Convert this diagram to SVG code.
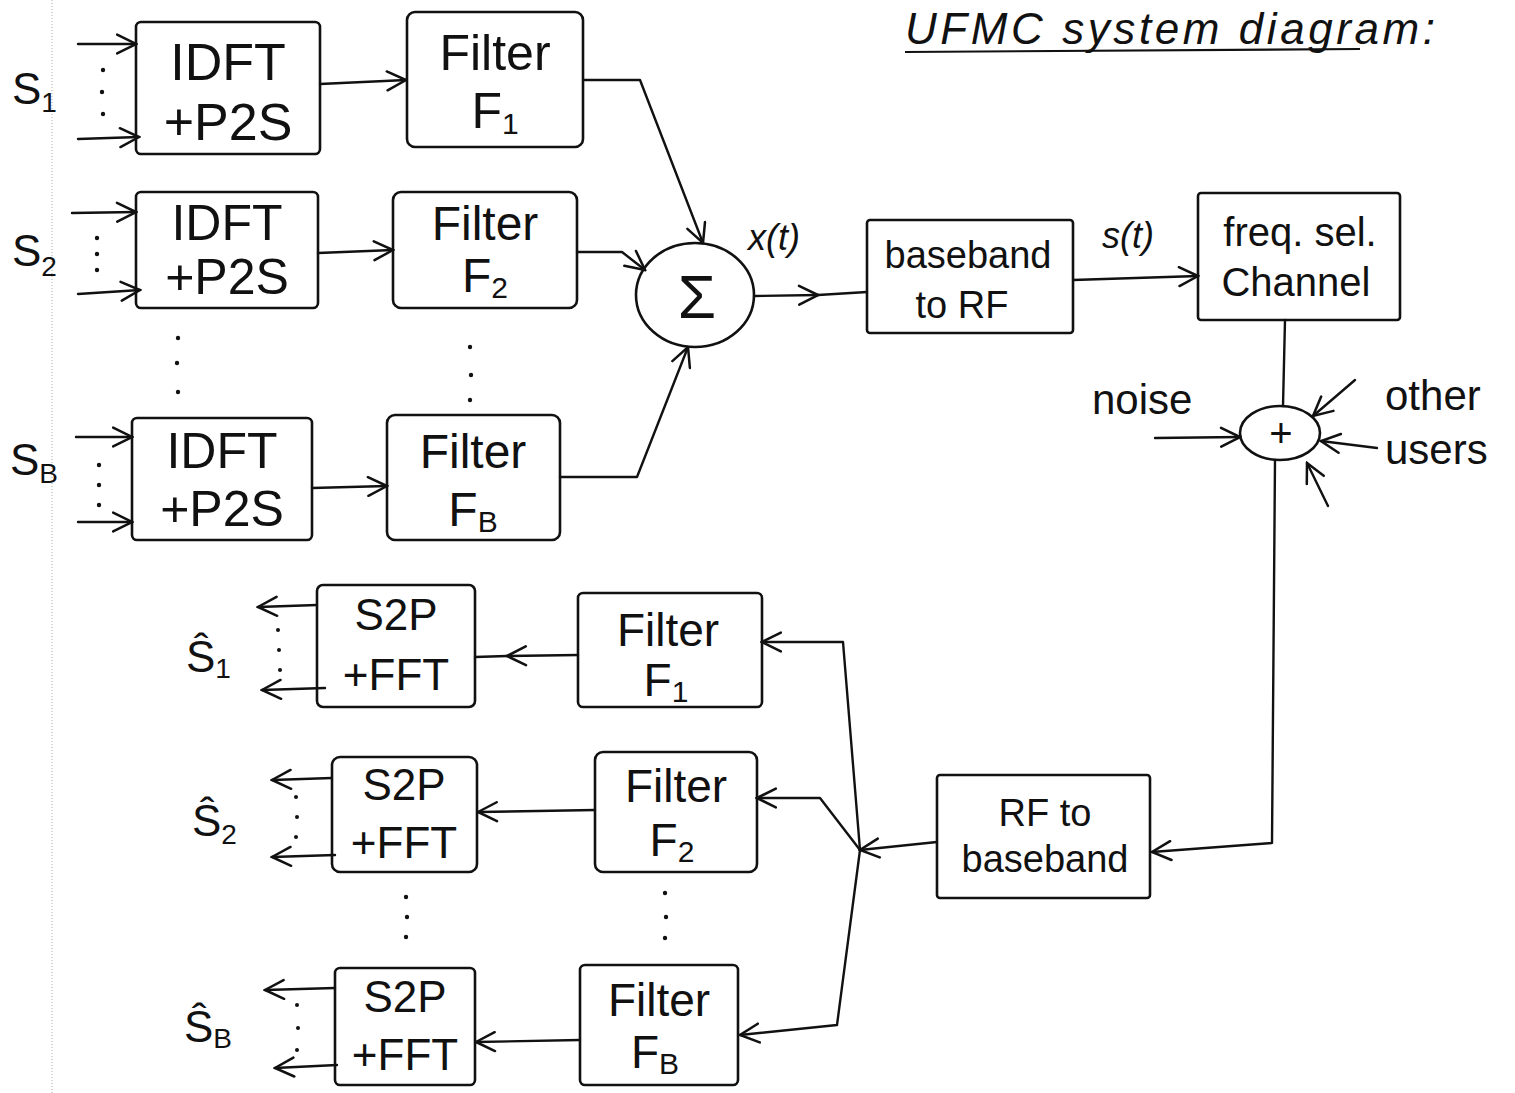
<svg xmlns="http://www.w3.org/2000/svg" width="1515" height="1093" viewBox="0 0 1515 1093">
<style>
.box{fill:none;stroke:#111;stroke-width:2.6;stroke-linejoin:round}
.w{fill:none;stroke:#111;stroke-width:2.4;stroke-linejoin:round;stroke-linecap:round}
.a{marker-end:url(#arr)}
.t{font-family:"Liberation Sans",Arial,sans-serif;fill:#111;text-anchor:middle}
.l{font-family:"Liberation Sans",Arial,sans-serif;fill:#111}
.dot{fill:#111}
</style>
<defs>
<marker id="arr" viewBox="0 0 14 14" refX="13" refY="7" markerWidth="22" markerHeight="22" markerUnits="userSpaceOnUse" orient="auto">
<path d="M1,1 L13,7 L1,13" fill="none" stroke="#111" stroke-width="1.6" stroke-linecap="round"/>
</marker>
</defs>
<rect width="1515" height="1093" fill="#fff"/>
<line x1="52" y1="0" x2="52" y2="1093" stroke="#aaa" stroke-width="1" stroke-dasharray="1 2"/>

<g id="title">
<text class="l" x="905" y="44" font-size="44" font-style="italic" textLength="530" lengthAdjust="spacing">UFMC system diagram:</text>
<line x1="905" y1="52" x2="1360" y2="49" stroke="#111" stroke-width="2.2"/>
</g>

<g id="labels">
<text class="l" x="12" y="104" font-size="44">S<tspan font-size="28" dy="8">1</tspan></text>
<text class="l" x="12" y="266" font-size="44">S<tspan font-size="28" dy="10">2</tspan></text>
<text class="l" x="10" y="475" font-size="44">S<tspan font-size="28" dy="8">B</tspan></text>
<text class="l" x="186" y="672" font-size="44">Ŝ<tspan font-size="28" dy="6">1</tspan></text>
<text class="l" x="192" y="836" font-size="44">Ŝ<tspan font-size="28" dy="8">2</tspan></text>
<text class="l" x="184" y="1042" font-size="44">Ŝ<tspan font-size="28" dy="6">B</tspan></text>
<text class="l" x="748" y="250" font-size="36" font-style="italic">x(t)</text>
<text class="l" x="1102" y="248" font-size="36" font-style="italic">s(t)</text>
<text class="l" x="1092" y="414" font-size="42">noise</text>
<text class="l" x="1385" y="410" font-size="42">other</text>
<text class="l" x="1385" y="464" font-size="42">users</text>
</g>

<g id="dots">
<circle class="dot" cx="103" cy="70" r="2.2"/><circle class="dot" cx="102" cy="92" r="2.2"/><circle class="dot" cx="103" cy="114" r="2.2"/>
<circle class="dot" cx="97" cy="238" r="2.2"/><circle class="dot" cx="97" cy="254" r="2.2"/><circle class="dot" cx="97" cy="270" r="2.2"/>
<circle class="dot" cx="99" cy="465" r="2.2"/><circle class="dot" cx="99" cy="485" r="2.2"/><circle class="dot" cx="99" cy="505" r="2.2"/>
<circle class="dot" cx="178" cy="338" r="2.2"/><circle class="dot" cx="177" cy="363" r="2.2"/><circle class="dot" cx="178" cy="392" r="2.2"/>
<circle class="dot" cx="470" cy="347" r="2.2"/><circle class="dot" cx="471" cy="375" r="2.2"/><circle class="dot" cx="470" cy="400" r="2.2"/>
<circle class="dot" cx="278" cy="630" r="2"/><circle class="dot" cx="279" cy="650" r="2"/><circle class="dot" cx="280" cy="670" r="2"/>
<circle class="dot" cx="296" cy="797" r="2"/><circle class="dot" cx="297" cy="817" r="2"/><circle class="dot" cx="296" cy="837" r="2"/>
<circle class="dot" cx="297" cy="1005" r="2"/><circle class="dot" cx="298" cy="1028" r="2"/><circle class="dot" cx="297" cy="1050" r="2"/>
<circle class="dot" cx="406" cy="897" r="2.2"/><circle class="dot" cx="407" cy="917" r="2.2"/><circle class="dot" cx="406" cy="937" r="2.2"/>
<circle class="dot" cx="665" cy="893" r="2.2"/><circle class="dot" cx="666" cy="917" r="2.2"/><circle class="dot" cx="665" cy="938" r="2.2"/>
</g>

<g id="tx-idft1"><rect class="box" x="136" y="22" width="184" height="132" rx="5"/>
<text class="t" x="228" y="80" font-size="52">IDFT</text><text class="t" x="228" y="140" font-size="52">+P2S</text></g>
<g id="tx-idft2"><rect class="box" x="136" y="192" width="182" height="116" rx="5"/>
<text class="t" x="227" y="240" font-size="50">IDFT</text><text class="t" x="227" y="294" font-size="50">+P2S</text></g>
<g id="tx-idftB"><rect class="box" x="132" y="418" width="180" height="122" rx="5"/>
<text class="t" x="222" y="468" font-size="50">IDFT</text><text class="t" x="222" y="526" font-size="50">+P2S</text></g>

<g id="tx-filt1"><rect class="box" x="407" y="12" width="176" height="135" rx="8"/>
<text class="t" x="495" y="70" font-size="50">Filter</text><text class="t" x="495" y="128" font-size="50">F<tspan font-size="30" dy="6">1</tspan></text></g>
<g id="tx-filt2"><rect class="box" x="393" y="192" width="184" height="116" rx="8"/>
<text class="t" x="485" y="240" font-size="48">Filter</text><text class="t" x="485" y="292" font-size="48">F<tspan font-size="30" dy="6">2</tspan></text></g>
<g id="tx-filtB"><rect class="box" x="387" y="415" width="173" height="125" rx="8"/>
<text class="t" x="473" y="468" font-size="48">Filter</text><text class="t" x="473" y="526" font-size="48">F<tspan font-size="30" dy="6">B</tspan></text></g>

<g id="sum"><ellipse class="box" cx="695" cy="295" rx="59" ry="52"/>
<text class="t" x="697" y="318" font-size="62">Σ</text></g>

<g id="bb2rf"><rect class="box" x="867" y="220" width="206" height="113" rx="3"/>
<text class="t" x="968" y="268" font-size="38">baseband</text><text class="t" x="962" y="318" font-size="38">to RF</text></g>

<g id="channel"><rect class="box" x="1198" y="193" width="202" height="127" rx="3"/>
<text class="t" x="1300" y="246" font-size="40">freq. sel.</text><text class="t" x="1296" y="296" font-size="40">Channel</text></g>

<g id="plus"><ellipse class="box" cx="1280" cy="433" rx="40" ry="27"/>
<text class="t" x="1281" y="447" font-size="40">+</text></g>

<g id="rf2bb"><rect class="box" x="937" y="775" width="213" height="123" rx="3"/>
<text class="t" x="1045" y="826" font-size="38">RF to</text><text class="t" x="1045" y="872" font-size="38">baseband</text></g>

<g id="rx-filt1"><rect class="box" x="578" y="593" width="184" height="114" rx="5"/>
<text class="t" x="668" y="646" font-size="46">Filter</text><text class="t" x="666" y="696" font-size="46">F<tspan font-size="30" dy="6">1</tspan></text></g>
<g id="rx-filt2"><rect class="box" x="595" y="752" width="162" height="120" rx="8"/>
<text class="t" x="676" y="802" font-size="46">Filter</text><text class="t" x="672" y="856" font-size="46">F<tspan font-size="30" dy="6">2</tspan></text></g>
<g id="rx-filtB"><rect class="box" x="580" y="965" width="158" height="120" rx="5"/>
<text class="t" x="659" y="1016" font-size="46">Filter</text><text class="t" x="655" y="1068" font-size="46">F<tspan font-size="30" dy="6">B</tspan></text></g>

<g id="rx-s2p1"><rect class="box" x="317" y="585" width="158" height="122" rx="6"/>
<text class="t" x="396" y="630" font-size="44">S2P</text><text class="t" x="396" y="690" font-size="44">+FFT</text></g>
<g id="rx-s2p2"><rect class="box" x="332" y="757" width="145" height="115" rx="8"/>
<text class="t" x="404" y="800" font-size="44">S2P</text><text class="t" x="404" y="858" font-size="44">+FFT</text></g>
<g id="rx-s2pB"><rect class="box" x="335" y="968" width="140" height="117" rx="5"/>
<text class="t" x="405" y="1012" font-size="44">S2P</text><text class="t" x="405" y="1070" font-size="44">+FFT</text></g>

<g id="connectors">
<path class="w a" d="M78,44 L136,44"/>
<path class="w a" d="M78,139 L139,137"/>
<path class="w a" d="M72,213 L136,212"/>
<path class="w a" d="M78,294 L140,290"/>
<path class="w a" d="M76,437 L132,437"/>
<path class="w a" d="M78,522 L132,522"/>
<path class="w a" d="M320,84 L406,80"/>
<path class="w a" d="M318,253 L393,250"/>
<path class="w a" d="M312,488 L387,486"/>
<path class="w a" d="M583,80 L640,80 L703,243"/>
<path class="w a" d="M577,252 L622,252 L645,270"/>
<path class="w a" d="M560,477 L637,477 L688,347"/>
<path class="w a" d="M754,296 L818,295"/>
<path class="w" d="M818,295 L867,292"/>
<path class="w a" d="M1073,280 L1198,276"/>
<path class="w" d="M1285,320 L1283,406"/>
<path class="w a" d="M1155,438 L1240,437"/>
<path class="w a" d="M1355,380 L1313,416"/>
<path class="w a" d="M1377,448 L1321,441"/>
<path class="w a" d="M1328,506 L1307,463"/>
<path class="w a" d="M1275,460 L1272,843 L1152,852"/>
<path class="w a" d="M937,842 L860,850"/>
<path class="w a" d="M860,850 L843,642 L762,642"/>
<path class="w a" d="M860,850 L820,798 L757,798"/>
<path class="w a" d="M860,850 L837,1025 L740,1035"/>
<path class="w a" d="M578,655 L507,656"/>
<path class="w" d="M507,656 L475,657"/>
<path class="w a" d="M595,810 L478,812"/>
<path class="w a" d="M580,1040 L476,1042"/>
<path class="w a" d="M317,605 L258,607"/>
<path class="w a" d="M325,688 L262,690"/>
<path class="w a" d="M332,778 L272,780"/>
<path class="w a" d="M335,855 L272,857"/>
<path class="w a" d="M335,988 L265,990"/>
<path class="w a" d="M337,1065 L275,1068"/>
</g>
</svg>
